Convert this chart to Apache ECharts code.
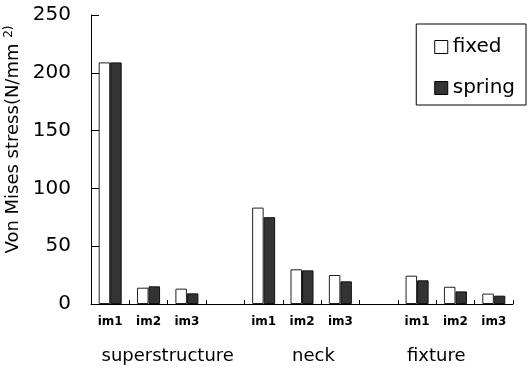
<!DOCTYPE html>
<html>
<head>
<meta charset="utf-8">
<script src="https://cdn.jsdelivr.net/npm/echarts@6/dist/echarts.min.js"></script>
<style>html,body{margin:0;padding:0;background:#fff}#c{width:528px;height:369px}</style>
</head>
<body>
<div id="c"></div>
<script>
var categories = ['im1','im2','im3','','im1','im2','im3','','im1','im2','im3'];
var fixedValues = [209, 14.1, 13.3, null, 83.4, 30.0, 25.1, null, 24.5, 14.9, 9.0];
var springValues = [209, 15.3, 9.2, null, 75.1, 29.1, 19.6, null, 20.5, 10.9, 7.2];
var groupNames = ['superstructure', 'neck', 'fixture'];
var groupPositions = [1.5, 5.3, 8.5];
var yTicks = [0, 50, 100, 150, 200, 250];

var chart = echarts.init(document.getElementById('c'), null, {renderer: 'canvas'});
var font = 'DejaVu Sans';
var option = {
  animation: false,
  backgroundColor: '#fff',
  grid: {left: 91, right: 15, top: 15, bottom: 65, containLabel: false, outerBoundsMode: 'none'},
  legend: {
    orient: 'vertical',
    right: 2, top: 24,
    padding: [13, 11, 7, 18],
    itemGap: 21,
    itemWidth: 13, itemHeight: 13,
    borderColor: '#000', borderWidth: 1,
    textStyle: {fontFamily: font, fontSize: 20, color: '#000'},
    data: [
      {name: 'fixed', icon: 'rect', itemStyle: {color: '#fff', borderColor: '#000', borderWidth: 1}},
      {name: 'spring', icon: 'rect', itemStyle: {color: '#333', borderColor: '#000', borderWidth: 1}}
    ]
  },
  xAxis: {
    type: 'category',
    data: categories,
    axisLine: {lineStyle: {color: '#000', width: 1}},
    axisTick: {show: true, inside: true, length: 4, lineStyle: {color: '#000', width: 1}},
    axisLabel: {color: '#000', fontFamily: font, fontWeight: 'bold', fontSize: 12, margin: 12, interval: 0}
  },
  yAxis: {
    type: 'value',
    min: 0, max: 250, interval: 50,
    axisLine: {show: true, lineStyle: {color: '#000', width: 1}},
    axisTick: {show: true, inside: true, length: 8, lineStyle: {color: '#000'}},
    splitLine: {show: false},
    axisLabel: {color: '#000', fontFamily: font, fontSize: 20, margin: 20,
      formatter: function (v) { return yTicks.indexOf(v) >= 0 ? String(v) : ''; }},
    name: '{a|Von Mises stress(N/mm }{s|2)}',
    nameLocation: 'middle',
    nameGap: 64,
    nameTextStyle: {
      padding: [0, 0, 0, 40],
      rich: {
        a: {fontFamily: font, fontSize: 18, color: '#000'},
        s: {fontFamily: font, fontSize: 12, color: '#000', verticalAlign: 'top', padding: [0, 0, 8, 0]}
      }
    }
  },
  series: [
    {name: 'fixed', type: 'bar', data: fixedValues, barGap: '0%', barCategoryGap: '40%',
      itemStyle: {color: '#fff', borderColor: '#222', borderWidth: 1}},
    {name: 'spring', type: 'bar', data: springValues, barGap: '0%', barCategoryGap: '40%',
      itemStyle: {color: '#333', borderColor: '#111', borderWidth: 1}}
  ]
};
chart.setOption(option);

var p0 = chart.convertToPixel({xAxisIndex: 0}, 0);
var p1 = chart.convertToPixel({xAxisIndex: 0}, 1);
var step = p1 - p0;
var baseY = chart.convertToPixel({yAxisIndex: 0}, 0);
chart.setOption({
  graphic: groupNames.map(function (n, i) {
    return {
      type: 'text',
      x: p0 + step * groupPositions[i],
      y: baseY + 52,
      style: {text: n, fontFamily: font, fontSize: 18, fill: '#000', align: 'center', verticalAlign: 'middle'}
    };
  })
});
</script>
</body>
</html>
